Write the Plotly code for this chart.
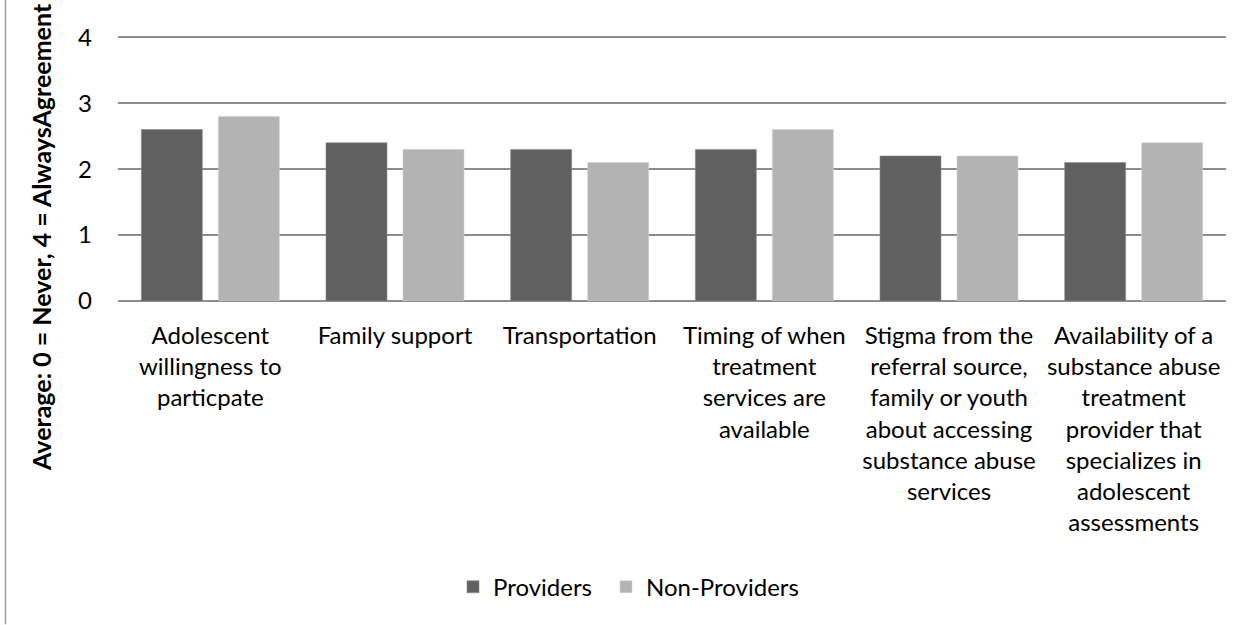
import plotly.graph_objects as go

categories = [
    "Adolescent<br>willingness to<br>particpate",
    "Family support",
    "Transportation",
    "Timing of when<br>treatment<br>services are<br>available",
    "Stigma from the<br>referral source,<br>family or youth<br>about accessing<br>substance abuse<br>services",
    "Availability of a<br>substance abuse<br>treatment<br>provider that<br>specializes in<br>adolescent<br>assessments",
]
providers = [2.6, 2.4, 2.3, 2.3, 2.2, 2.1]
non_providers = [2.8, 2.3, 2.1, 2.6, 2.2, 2.4]
y_ticks = [0, 1, 2, 3, 4]

FONT = "Lato"
W, H = 1251, 625
Y_MAX = 4.02
ML, MR, MB = 118, 25, 324
MT = 37.5 - (Y_MAX - 4) * (625 - 324 - 37.5) / 4
plot_w = W - ML - MR
plot_h = H - MT - MB


def px_to_paper_x(px):
    return (px - ML) / plot_w


def px_to_paper_y(py):
    return (H - MB - py) / plot_h


legend_font = dict(family=FONT, size=24, color="#000000")

fig = go.Figure()
fig.add_trace(go.Bar(
    name="Providers", x=categories, y=providers,
    marker=dict(color="#606060", line=dict(color="#8a8a8a", width=0.6)),
    legend="legend",
))
fig.add_trace(go.Bar(
    name="Non-Providers", x=categories, y=non_providers,
    marker=dict(color="#b3b3b3", line=dict(color="#d0d0d0", width=0.6)),
    legend="legend2",
))

fig.update_layout(
    width=W, height=H,
    margin=dict(l=ML, r=MR, t=MT, b=MB, pad=0),
    paper_bgcolor="white", plot_bgcolor="white",
    barmode="group", bargap=0.166, bargroupgap=0.208,
    font=dict(family=FONT, size=24, color="#000000"),
    showlegend=True,
    legend=dict(
        orientation="h", x=px_to_paper_x(453), xanchor="left",
        y=px_to_paper_y(587), yanchor="middle", font=legend_font,
    ),
    legend2=dict(
        orientation="h", x=px_to_paper_x(606), xanchor="left",
        y=px_to_paper_y(587), yanchor="middle", font=legend_font,
    ),
    xaxis=dict(
        showgrid=False, showline=False, ticks="",
        tickfont=dict(family=FONT, size=24, color="#000000"),
        ticklabelstandoff=18, tickangle=0,
    ),
    yaxis=dict(
        range=[0, Y_MAX], tickvals=y_ticks, ticks="",
        showgrid=True, gridcolor="#8c8c8c", gridwidth=1.6,
        zeroline=True, zerolinecolor="#8c8c8c", zerolinewidth=1.6,
        showline=False,
        tickfont=dict(family=FONT, size=24, color="#000000"),
        ticklabelstandoff=25,
    ),
    annotations=[dict(
        text="<b>Average: 0 = Never, 4 = AlwaysAgreement</b>",
        xref="paper", yref="paper",
        x=px_to_paper_x(41), y=px_to_paper_y(237),
        xanchor="center", yanchor="middle", textangle=-90,
        showarrow=False,
        font=dict(family=FONT, size=25, color="#000000"),
    )],
    shapes=[dict(
        type="line", xref="paper", yref="paper",
        x0=px_to_paper_x(5.5), x1=px_to_paper_x(5.5),
        y0=px_to_paper_y(0), y1=px_to_paper_y(624),
        line=dict(color="#a0a0a0", width=1.5),
    )],
)

fig.write_html("out.html")
